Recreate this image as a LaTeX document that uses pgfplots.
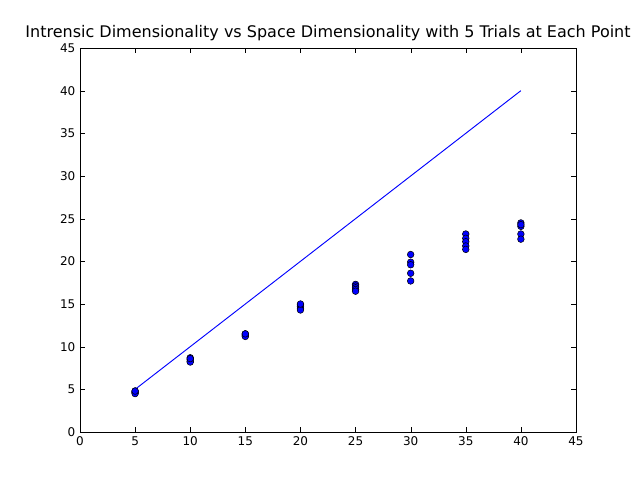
\documentclass[border=0pt]{standalone}
\usepackage{fontspec}
\setmainfont{DejaVu Sans}
\usepackage{pgfplots}
\pgfplotsset{compat=1.18}
\begin{document}
\begin{tikzpicture}
\path[use as bounding box] (0,0) rectangle (480pt,360pt);
\begin{axis}[at={(60pt,36pt)},anchor=south west,scale only axis,width=372pt,height=288pt,
xmin=0,xmax=45,ymin=0,ymax=45,xtick={0,5,...,45},ytick={0,5,...,45},
tick style={black},major tick length=4pt,tick align=inside,
ticklabel style={font=\fontsize{9}{10}\selectfont},
/pgf/number format/assume math mode=true,
title={Intrensic Dimensionality vs Space Dimensionality with 5 Trials at Each Point},
title style={font=\fontsize{12}{14}\selectfont,yshift=-4pt}]
\addplot[blue,no marks,line width=0.7pt] coordinates {(5,5)(40,40)};
\addplot[only marks,mark=*,mark size=2.5pt,mark options={fill=blue,draw=black,line width=0.4pt}] coordinates {
(5,4.8)(5,4.7)(5,4.6)(5,4.5)(5,4.8)
(10,8.7)(10,8.5)(10,8.3)(10,8.2)(10,8.6)
(15,11.5)(15,11.4)(15,11.3)(15,11.2)(15,11.5)
(20,14.9)(20,14.7)(20,14.5)(20,14.3)(20,15.0)
(25,17.3)(25,17.1)(25,16.9)(25,16.7)(25,16.5)
(30,20.8)(30,19.9)(30,19.6)(30,18.6)(30,17.7)
(35,23.2)(35,22.7)(35,22.3)(35,21.8)(35,21.4)
(40,24.5)(40,24.1)(40,24.3)(40,23.2)(40,22.6)};
\end{axis}
\end{tikzpicture}
\end{document}
